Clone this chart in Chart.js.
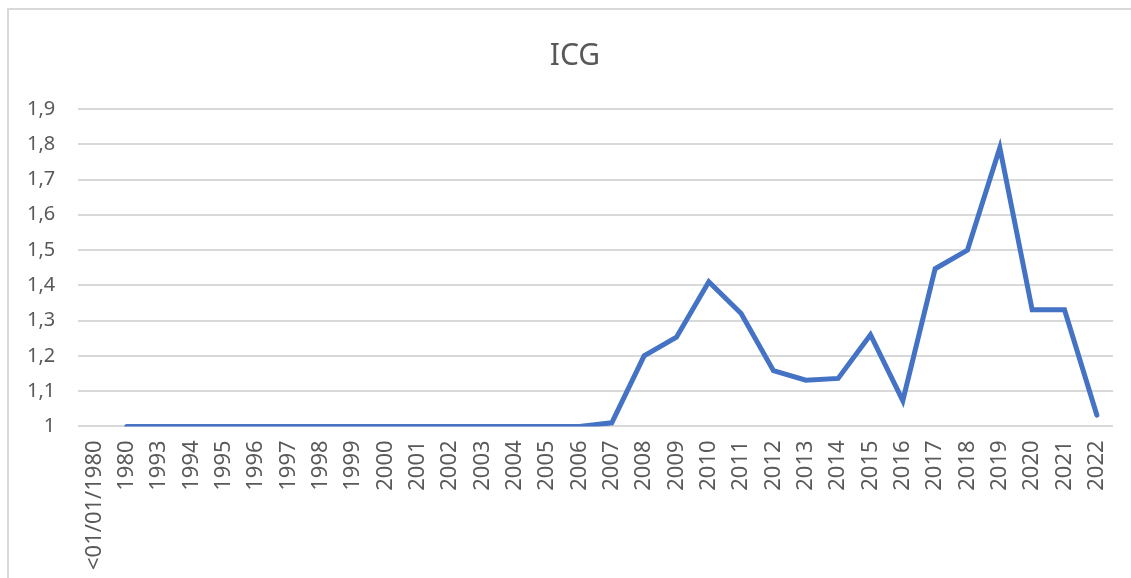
<!DOCTYPE html>
<html>
<head>
<meta charset="utf-8">
<script src="https://cdn.jsdelivr.net/npm/chart.js@4.4.0/dist/chart.umd.min.js"></script>
<style>
  html, body { margin: 0; padding: 0; background: #fff; }
  #wrap { position: absolute; left: 0; top: 0; width: 1131px; height: 578px; }
  #frame { position: absolute; left: 7px; top: 8px; width: 1140px; height: 600px; border: 2px solid #d9d9d9; }
  #title { position: absolute; left: 475px; top: 33px; width: 200px; text-align: center;
           font-family: 'Noto Sans'; font-size: 30px; line-height: 42px; color: #595959; }
</style>
</head>
<body>
<div id="frame"></div>
<div id="wrap"><canvas id="myChart" width="1131" height="578"></canvas></div>
<div id="title">ICG</div>
<script>
const years = ['<01/01/1980', '1980', '1993', '1994', '1995', '1996', '1997', '1998', '1999', '2000',
    '2001', '2002', '2003', '2004', '2005', '2006', '2007', '2008', '2009', '2010', '2011',
    '2012', '2013', '2014', '2015', '2016', '2017', '2018', '2019', '2020', '2021', '2022'];
const icgValues = [null, 1, 1, 1, 1, 1, 1, 1, 1, 1, 1, 1, 1, 1, 1, 1, 1.01, 1.2, 1.253, 1.41, 1.32,
    1.158, 1.131, 1.136, 1.26, 1.073, 1.447, 1.5, 1.79, 1.331, 1.331, 1.032];
const yMin = 1;
const yMax = 1.9;
const yStep = 0.1;

const ctx = document.getElementById('myChart').getContext('2d');
const myChart = new Chart(ctx, {
    type: 'line',
    data: {
        labels: years,
        datasets: [{
            label: 'ICG',
            data: icgValues,
            borderColor: '#4472C4',
            borderWidth: 5,
            pointRadius: 0,
            tension: 0,
            fill: false,
            borderCapStyle: 'round',
            borderJoinStyle: 'miter'
        }]
    },
    options: {
        responsive: false,
        animation: false,
        // title is the html div above, so the top padding leaves room for it
        layout: { padding: { left: 4, right: 18, top: 109, bottom: 2 } },
        plugins: {
            legend: { display: false },
            tooltip: { enabled: false },
            title: { display: false }
        },
        scales: {
            x: {
                offset: true,
                grid: { display: false },
                border: { display: false },
                ticks: {
                    color: '#595959',
                    font: { family: 'Noto Sans', size: 22 },
                    minRotation: 90,
                    maxRotation: 90,
                    autoSkip: false,
                    padding: 6
                }
            },
            y: {
                min: yMin,
                max: yMax,
                grid: { color: '#d9d9d9', lineWidth: 2, drawTicks: false },
                border: { display: false },
                ticks: {
                    stepSize: yStep,
                    color: '#595959',
                    font: { family: 'Noto Sans', size: 20 },
                    padding: 23,
                    callback: function(value) {
                        return Number(value.toFixed(1)).toString().replace('.', ',');
                    }
                }
            }
        }
    }
});
</script>
</body>
</html>
